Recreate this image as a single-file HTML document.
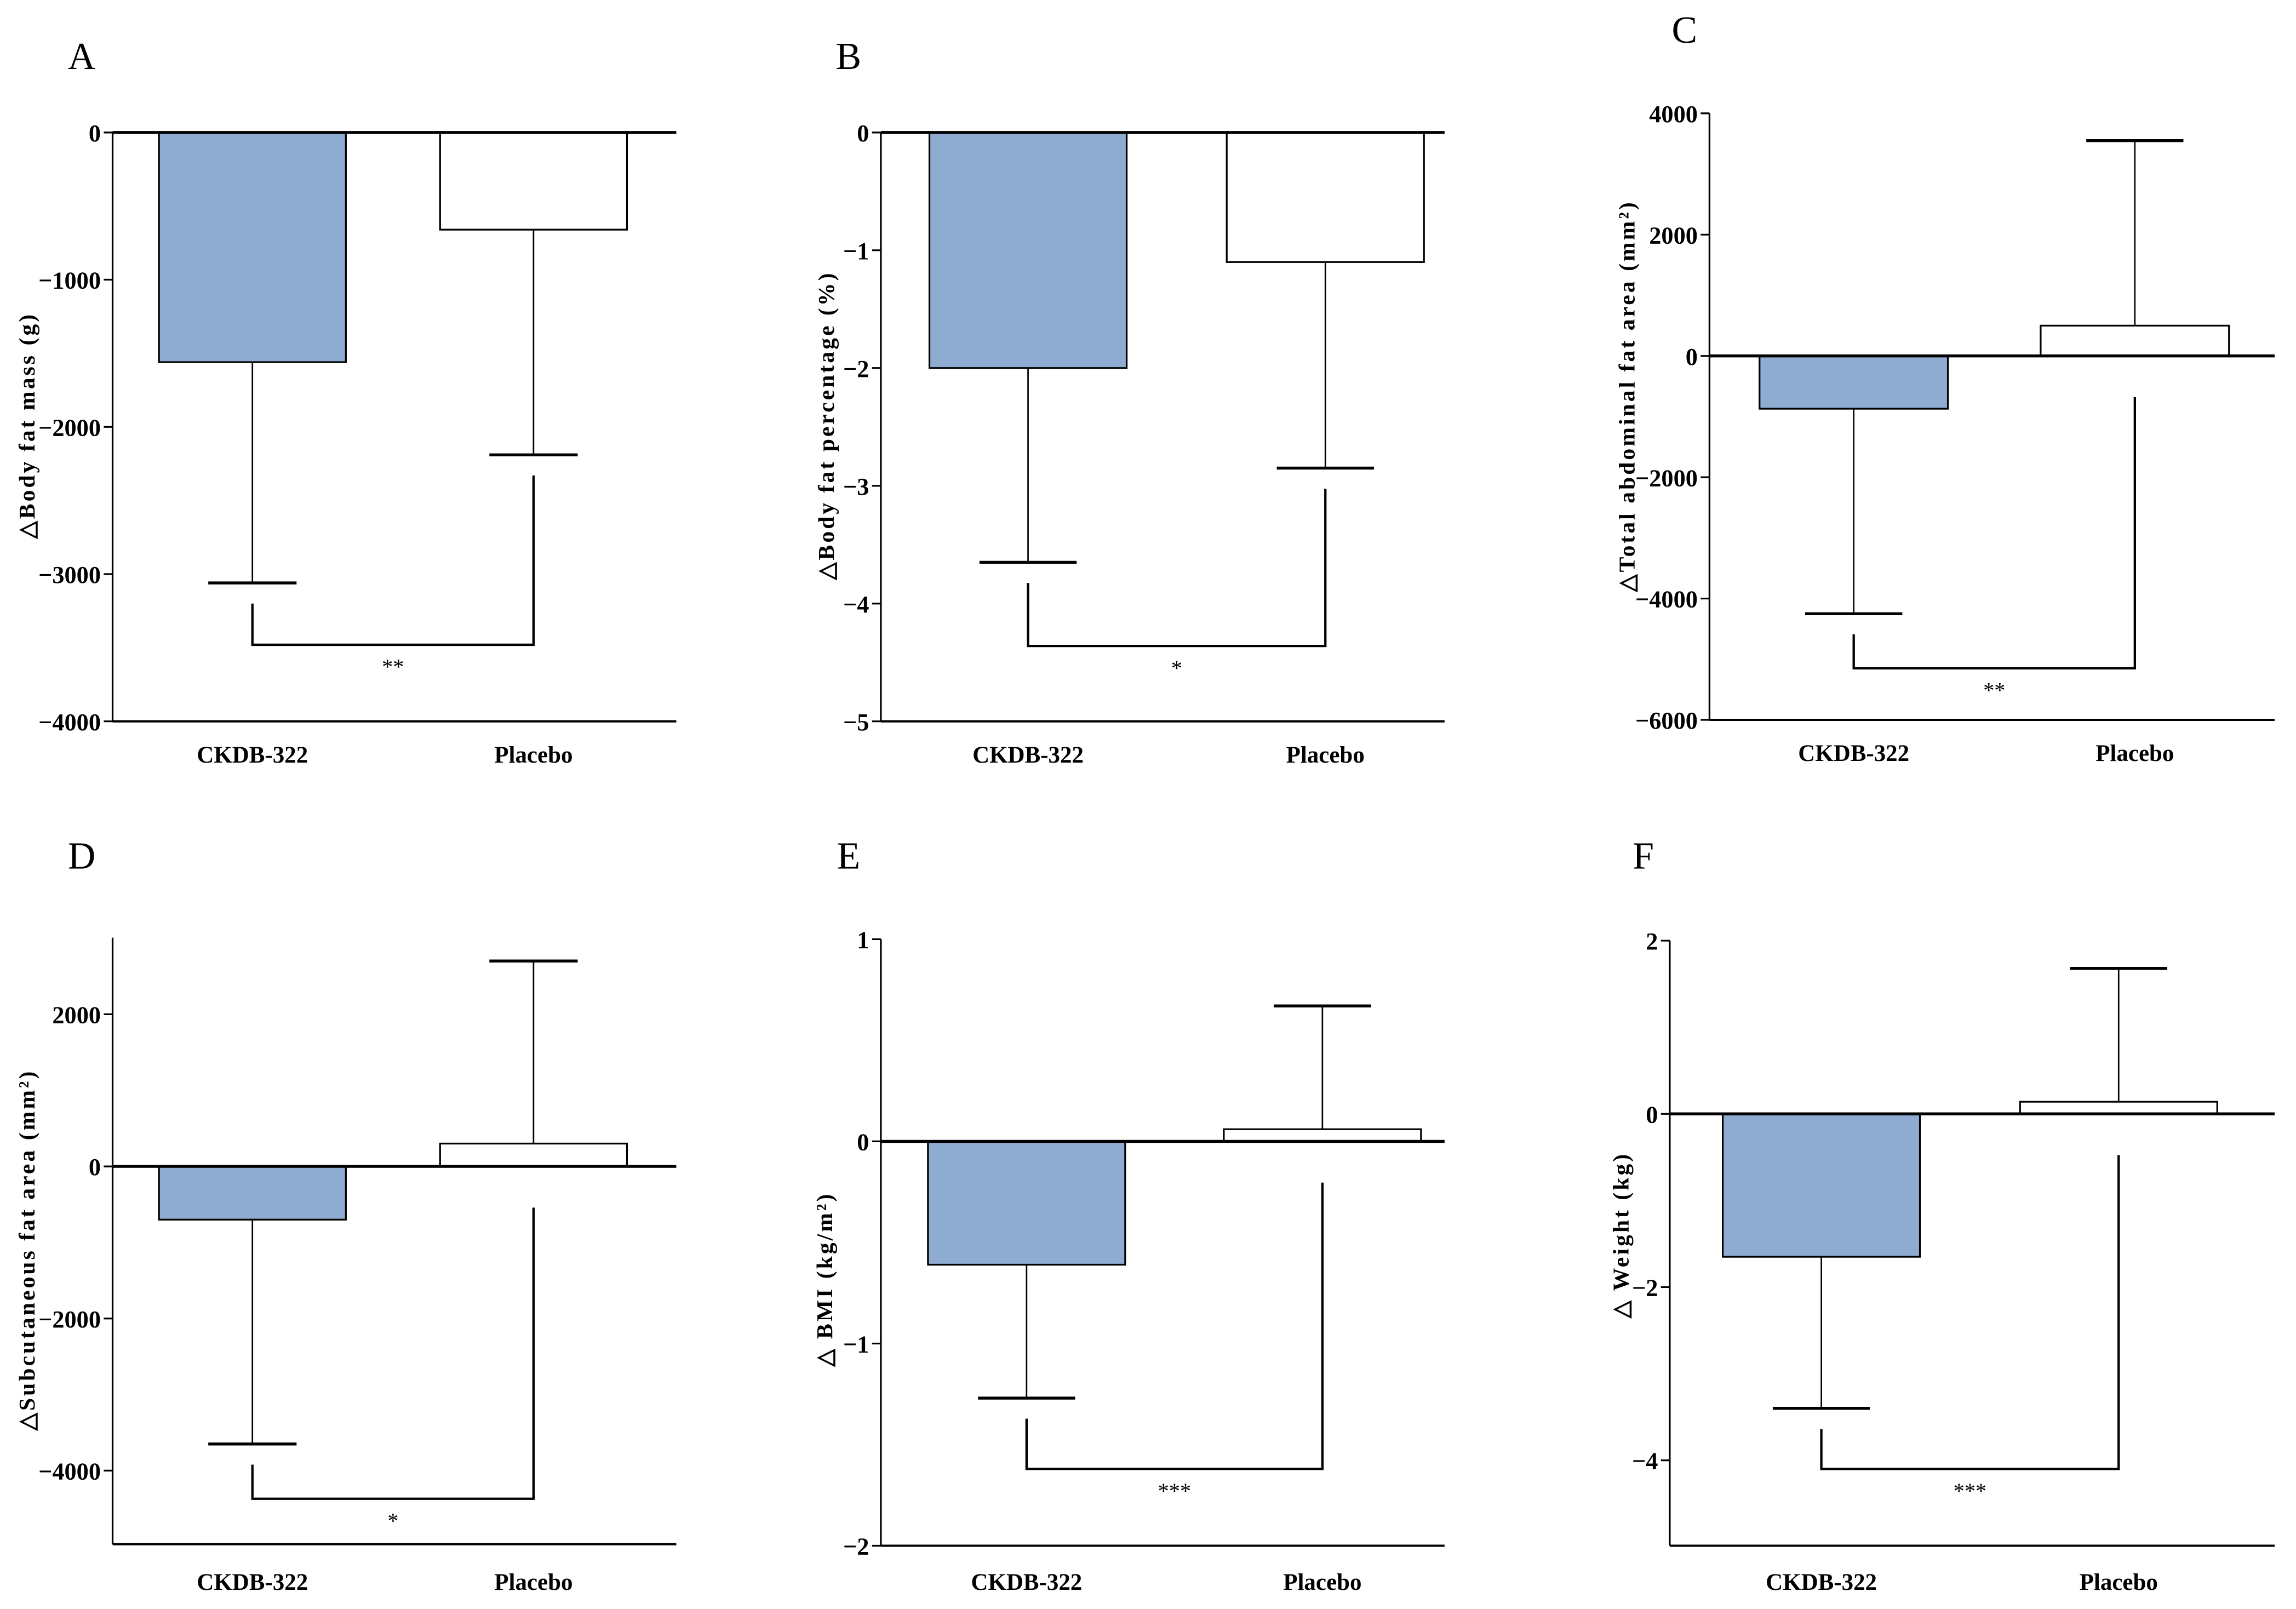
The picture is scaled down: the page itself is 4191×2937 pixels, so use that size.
<!DOCTYPE html>
<html><head><meta charset="utf-8"><style>
html,body{margin:0;padding:0;background:#fff;}
svg{display:block;}
text{font-family:"Liberation Serif",serif;fill:#000;}
</style></head><body>
<svg id="fig" width="4191" height="2937" viewBox="0 0 1560 1093" preserveAspectRatio="none" xmlns="http://www.w3.org/2000/svg">
<g id="root" transform="translate(-1.5,-1)"></g>
</svg>
<script>
const categories = ["CKDB-322", "Placebo"];
const meansA = [-1560, -660];   const sdA = [1500, 1530];
const meansB = [-2.0, -1.1];    const sdB = [1.65, 1.75];
const meansC = [-870, 500];     const sdC = [3380, 3050];
const meansD = [-700, 300];     const sdD = [2950, 2400];
const meansE = [-0.61, 0.06];   const sdE = [0.66, 0.61];
const meansF = [-1.65, 0.14];   const sdF = [1.75, 1.54];
const ticksA = [0, -1000, -2000, -3000, -4000];
const ticksB = [0, -1, -2, -3, -4, -5];
const ticksC = [4000, 2000, 0, -2000, -4000, -6000];
const ticksD = [2000, 0, -2000, -4000];
const ticksE = [1, 0, -1, -2];
const ticksF = [2, 0, -2, -4];
const bracketA = -3480, bracketB = -4.36, bracketC = -5150, bracketD = -4370, bracketE = -1.62, bracketF = -4.1;
const sigA = "**", sigB = "*", sigC = "**", sigD = "*", sigE = "***", sigF = "***";

const NS = "http://www.w3.org/2000/svg";
const root = document.getElementById('root');
function mk(tag, attrs, parent){ const e=document.createElementNS(NS,tag); for(const k in attrs) e.setAttribute(k,attrs[k]); parent.appendChild(e); return e; }

const panels = [
 {id:'a', letter:'A', lx:57, ly:42, ax:78, right:461, vMax:0, vMin:-4000, yTop:91, yBot:491, axTop:91, axBot:491, cx:[173,364], bw:127, capW:60, means:meansA, sd:sdA, ticks:ticksA, br:bracketA, sig:sigA, title:'△Body fat mass (g)', tx:20, ty:290, labY:513},
 {id:'b', letter:'B', lx:578, ly:42, ax:600, right:983, vMax:0, vMin:-5, yTop:91, yBot:491, axTop:91, axBot:491, cx:[700,902], bw:134, capW:66, means:meansB, sd:sdB, ticks:ticksB, br:bracketB, sig:sigB, title:'△Body fat percentage (%)', tx:563, ty:290, labY:513},
 {id:'c', letter:'C', lx:1146, ly:24, ax:1163, right:1547, vMax:4000, vMin:-6000, yTop:78, yBot:490, axTop:78, axBot:490, cx:[1261,1452], bw:128, capW:66, means:meansC, sd:sdC, ticks:ticksC, br:bracketC, sig:sigC, title:'△Total abdominal fat area (mm²)', tx:1107, ty:270, labY:512},
 {id:'d', letter:'D', lx:57, ly:585, ax:78, right:461, vMax:2000, vMin:-4000, yTop:690, yBot:1000, axTop:638, axBot:1050, cx:[173,364], bw:127, capW:60, means:meansD, sd:sdD, ticks:ticksD, br:bracketD, sig:sigD, title:'△Subcutaneous fat area  (mm²)', tx:20, ty:850, labY:1075},
 {id:'e', letter:'E', lx:578, ly:585, ax:600, right:983, vMax:1, vMin:-2, yTop:639, yBot:1051, axTop:639, axBot:1051, cx:[699,900], bw:134, capW:66, means:meansE, sd:sdE, ticks:ticksE, br:bracketE, sig:sigE, title:'△ BMI (kg/m²)', tx:562, ty:870, labY:1075},
 {id:'f', letter:'F', lx:1118, ly:585, ax:1136, right:1547, vMax:2, vMin:-4, yTop:640, yBot:993, axTop:640, axBot:1051, cx:[1239,1441], bw:134, capW:66, means:meansF, sd:sdF, ticks:ticksF, br:bracketF, sig:sigF, title:'△ Weight (kg)', tx:1103, ty:840, labY:1075}
];

panels.forEach(p=>{
  const y = v => p.yTop + (p.vMax - v) * (p.yBot - p.yTop) / (p.vMax - p.vMin);
  const g = mk('g',{},root);
  
  
  const L = mk('text',{x:p.lx,y:p.ly,'font-size':26,'text-anchor':'middle','dominant-baseline':'middle'},g);
  L.textContent = p.letter;
  
  
  const ya = mk('line',{x1:p.ax,y1:p.axTop,x2:p.ax,y2:p.axBot,stroke:'#000','stroke-width':1.2},g);
  
  
  const xa = mk('line',{x1:p.ax,y1:p.axBot,x2:p.right,y2:p.axBot,stroke:'#000','stroke-width':1.5},g);
  
  
  p.ticks.forEach(t=>{
    const ty = y(t);
    mk('line',{x1:p.ax-6,y1:ty,x2:p.ax,y2:ty,stroke:'#000','stroke-width':1.2},g);
    const tl = mk('text',{x:p.ax-8,y:ty+6,'font-size':16.5,'font-weight':'bold','text-anchor':'end'},g);
    tl.textContent = t < 0 ? '−' + Math.abs(t) : String(t);
    
    
  });
  const ti = mk('text',{x:0,y:0,'font-size':15.5,'font-weight':'bold','text-anchor':'middle','letter-spacing':'1.5',transform:`translate(${p.tx+5},${p.ty}) rotate(-90)`},g);
  ti.textContent = p.title;
  
  
  const y0 = y(0);
  const ends = [];
  p.means.forEach((m,i)=>{
    const cx = p.cx[i];
    const top = Math.min(y0, y(m)), h = Math.abs(y(m) - y0);
    const bar = mk('rect',{x:cx-p.bw/2,y:top,width:p.bw,height:h,fill:i===0?'#8eabd1':'#fff',stroke:'#000','stroke-width':1.2},g);
    
    
    const e = m < 0 ? m - p.sd[i] : m + p.sd[i];
    mk('line',{x1:cx,y1:y(m),x2:cx,y2:y(e),stroke:'#000','stroke-width':1},g);
    const cap = mk('line',{x1:cx-p.capW/2,y1:y(e),x2:cx+p.capW/2,y2:y(e),stroke:'#000','stroke-width':2},g);
    
    
    ends.push(m < 0 ? y(e) + 14 : y0 + 28);
    const xl = mk('text',{x:cx,y:p.labY+6,'font-size':16,'font-weight':'bold','text-anchor':'middle'},g);
    xl.textContent = categories[i];
    
    
  });
  const zl = mk('line',{x1:p.ax,y1:y0,x2:p.right,y2:y0,stroke:'#000','stroke-width':2},g);
  
  
  const by = y(p.br);
  const br = mk('polyline',{points:`${p.cx[0]},${ends[0]} ${p.cx[0]},${by} ${p.cx[1]},${by} ${p.cx[1]},${ends[1]}`,fill:'none',stroke:'#000','stroke-width':1.6},g);
  
  
  const st = mk('text',{x:(p.cx[0]+p.cx[1])/2,y:by+20,'font-size':15,'text-anchor':'middle'},g);
  st.textContent = p.sig;
  
  
});
</script>
</body></html>
